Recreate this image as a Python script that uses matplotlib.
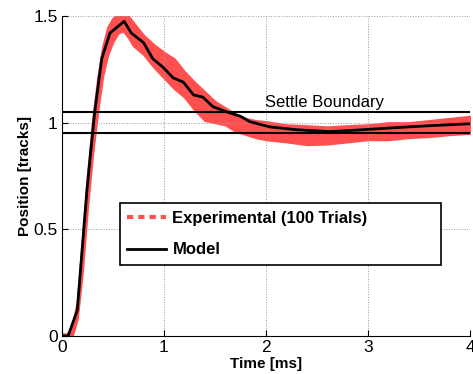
import matplotlib.pyplot as plt
from matplotlib.lines import Line2D

plt.rcParams['font.family'] = ['Liberation Sans', 'DejaVu Sans']

# model response (black line)
t_model = [0.0, 0.06, 0.15, 0.245, 0.32, 0.39, 0.47, 0.61, 0.68, 0.80, 0.89, 0.99,
           1.09, 1.19, 1.29, 1.38, 1.48, 1.62, 1.75, 1.84, 2.04, 2.30, 2.63, 2.95,
           3.28, 3.61, 4.0]
y_model = [0.0, 0.0, 0.12, 0.685, 1.047, 1.30, 1.42, 1.475, 1.42, 1.375, 1.30, 1.26,
           1.21, 1.19, 1.13, 1.12, 1.075, 1.05, 1.03, 1.005, 0.98, 0.967, 0.958, 0.967,
           0.977, 0.986, 0.995]

# experimental trials envelope (red band)
t_exp = [0.0, 0.05, 0.1, 0.15, 0.2, 0.25, 0.3, 0.35, 0.4, 0.45, 0.5, 0.55, 0.6, 0.65,
         0.7, 0.8, 0.9, 1.0, 1.1, 1.2, 1.3, 1.4, 1.5, 1.6, 1.7, 1.8, 1.9, 2.0, 2.2,
         2.4, 2.6, 2.8, 3.0, 3.2, 3.4, 3.6, 3.8, 4.0]
exp_low = [0.0, 0.0, 0.0, 0.08, 0.30, 0.60, 0.85, 1.05, 1.22, 1.32, 1.38, 1.42, 1.43,
           1.40, 1.36, 1.32, 1.26, 1.21, 1.16, 1.12, 1.06, 1.01, 1.00, 0.99, 0.96,
           0.945, 0.93, 0.92, 0.91, 0.897, 0.90, 0.91, 0.92, 0.92, 0.93, 0.935, 0.944,
           0.95]
exp_high = [0.01, 0.01, 0.05, 0.16, 0.46, 0.76, 1.01, 1.21, 1.36, 1.45, 1.49, 1.51,
            1.51, 1.50, 1.47, 1.41, 1.366, 1.33, 1.30, 1.24, 1.19, 1.145, 1.10, 1.07,
            1.04, 1.02, 1.01, 1.005, 0.99, 0.986, 0.98, 0.986, 0.99, 1.0, 1.0, 1.01,
            1.02, 1.03]

settle = [0.95, 1.05]

red = '#ff4f4f'

fig = plt.figure(figsize=(4.73, 3.74), dpi=100)
ax = fig.add_axes([0.131, 0.1016, 0.8626, 0.8556])

ax.fill_between(t_exp, exp_low, exp_high, color=red, linewidth=1.5, edgecolor=red)
ax.plot(t_model, y_model, color='black', linewidth=2)
for s in settle:
    ax.axhline(s, color='black', linewidth=1.5)
ax.text(1.99, 1.075, 'Settle Boundary', fontsize=12)

ax.set_xlim(0, 4)
ax.set_ylim(0, 1.5)
ax.set_xticks([0, 1, 2, 3, 4])
ax.set_yticks([0, 0.5, 1, 1.5])
ax.set_yticklabels(['0', '0.5', '1', '1.5'])
ax.tick_params(direction='in', labelsize=12.5, length=4, pad=3)
ax.grid(True, linestyle=':', color='#999999', linewidth=0.7)
ax.spines['top'].set_visible(False)
ax.spines['right'].set_visible(False)
ax.set_xlabel('Time [ms]', fontweight='bold', fontsize=11, labelpad=1)
ax.set_ylabel('Position [tracks]', fontweight='bold', fontsize=11, labelpad=1)

handles = [Line2D([], [], color=red, linestyle=(0, (1.5, 1.2)), linewidth=3),
           Line2D([], [], color='black', linewidth=2)]
leg = ax.legend(handles, ['Experimental (100 Trials)', 'Model'],
                loc='lower left', bbox_to_anchor=(0.142, 0.222, 0.787, 0.2),
                mode='expand', fancybox=False, framealpha=1, edgecolor='black',
                prop={'weight': 'bold', 'size': 12}, handlelength=2.3,
                handletextpad=0.4, labelspacing=1.0, borderpad=0.45,
                borderaxespad=0)
leg.get_frame().set_linewidth(1.2)

fig.savefig('out.png', dpi=100)
